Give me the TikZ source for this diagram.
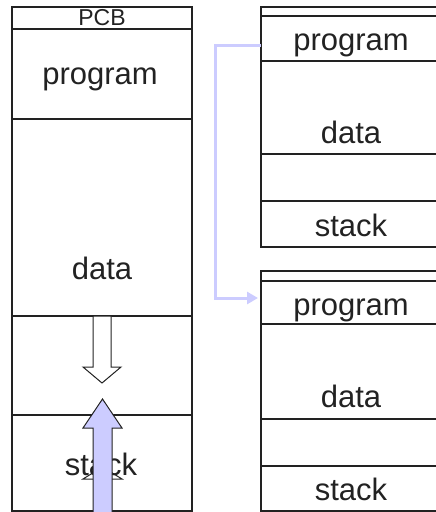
\documentclass[tikz,border=0pt]{standalone}
\usepackage{fontspec}
\setmainfont{Liberation Sans}
\usetikzlibrary{arrows.meta}
\definecolor{lav}{HTML}{CCCCFF}
\definecolor{ink}{HTML}{222222}

\begin{document}
\begin{tikzpicture}[x=1pt,y=-1pt,
  seg/.style={draw=ink, line width=1.1pt, anchor=north west, inner sep=0pt, outer sep=0pt},
  sepline/.style={draw=ink, line width=2.2pt},
  lbl/.style={anchor=base, inner sep=0pt, text=ink, font=\fontsize{31}{31}\selectfont},
  pcblbl/.style={anchor=base, inner sep=0pt, text=ink, font=\fontsize{23}{23}\selectfont},
  hollowarrow/.style={draw=ink, line width=1pt, fill=white, line join=miter},
  growarrow/.style={draw=ink, line width=1pt, fill=lav, line join=miter},
  copylink/.style={draw=lav, line width=3pt, -{Triangle[length=11pt,width=12pt]}}]
\useasboundingbox (0,0) rectangle (436,512);
\clip (0,0) rectangle (436,512);

% process image with its control block
\node[seg, minimum width=180pt, minimum height=22pt]  (pcb)    at (12,7)   {};
\node[seg, minimum width=180pt, minimum height=90pt]  (lprog)  at (12,29)  {};
\node[seg, minimum width=180pt, minimum height=197pt] (ldata)  at (12,119) {};
\node[seg, minimum width=180pt, minimum height=99pt]  (lgap)   at (12,316) {};
\node[seg, minimum width=180pt, minimum height=96pt]  (lstack) at (12,415) {};
\draw[sepline, line width=1.6pt] (lprog.north west) -- (lprog.north east);
\draw[sepline, line width=1.6pt] (ldata.north west) -- (ldata.north east);

% upper copy
\node[seg, minimum width=200pt, minimum height=9pt]  (rthead)  at (261,7)   {};
\node[seg, minimum width=200pt, minimum height=45pt] (rtprog)  at (261,16)  {};
\node[seg, minimum width=200pt, minimum height=93pt] (rtdata)  at (261,61)  {};
\node[seg, minimum width=200pt, minimum height=47pt] (rtgap)   at (261,154) {};
\node[seg, minimum width=200pt, minimum height=46pt] (rtstack) at (261,201) {};
\draw[sepline] (rtprog.north west) -- (rtprog.north east);
\draw[sepline] (rtstack.north west) -- (rtstack.north east);

% lower copy
\node[seg, minimum width=200pt, minimum height=10pt] (rbhead)  at (261,271) {};
\node[seg, minimum width=200pt, minimum height=43pt] (rbprog)  at (261,281) {};
\node[seg, minimum width=200pt, minimum height=95pt] (rbdata)  at (261,324) {};
\node[seg, minimum width=200pt, minimum height=47pt] (rbgap)   at (261,419) {};
\node[seg, minimum width=200pt, minimum height=45pt] (rbstack) at (261,466) {};
\draw[sepline] (rbprog.north west) -- (rbprog.north east);
\draw[sepline] (rbstack.north west) -- (rbstack.north east);

% labels
\node[pcblbl] (tpcb)   at (102,25)  {PCB};
\node[lbl]   (tlprog)  at (100,84)  {program};
\node[lbl]   (tldata)  at (102,279) {data};

\node[lbl]   (trtprog)  at (351,50)  {program};
\node[lbl]   (trtdata)  at (351,143) {data};
\node[lbl]   (trtstack) at (351,236) {stack};

\node[lbl]   (trbprog)  at (351,315) {program};
\node[lbl]   (trbdata)  at (351,407) {data};
\node[lbl]   (trbstack) at (351,500) {stack};

% data growing downwards
\draw[hollowarrow] (93,316) -- (93,367) -- (83,367) -- (102,383) -- (121,367) -- (111,367) -- (111,316) -- cycle;

% stack label with a buried arrow head under the growth arrow
\draw[hollowarrow] (83,479) -- (102.5,467) -- (122,479) -- cycle;
\node[lbl] (tlstack) at (101,475) {stack};

% stack growing upwards
\draw[growarrow] (93,514) -- (93,428) -- (83,428) -- (102.5,399) -- (122,428) -- (112,428) -- (112,514);

% copying the program to another place
\draw[copylink] ([yshift=-6.5pt]rtprog.west) -| (215,298) -- ([yshift=4.5pt,xshift=-3pt]rbprog.west);
\end{tikzpicture}
\end{document}
